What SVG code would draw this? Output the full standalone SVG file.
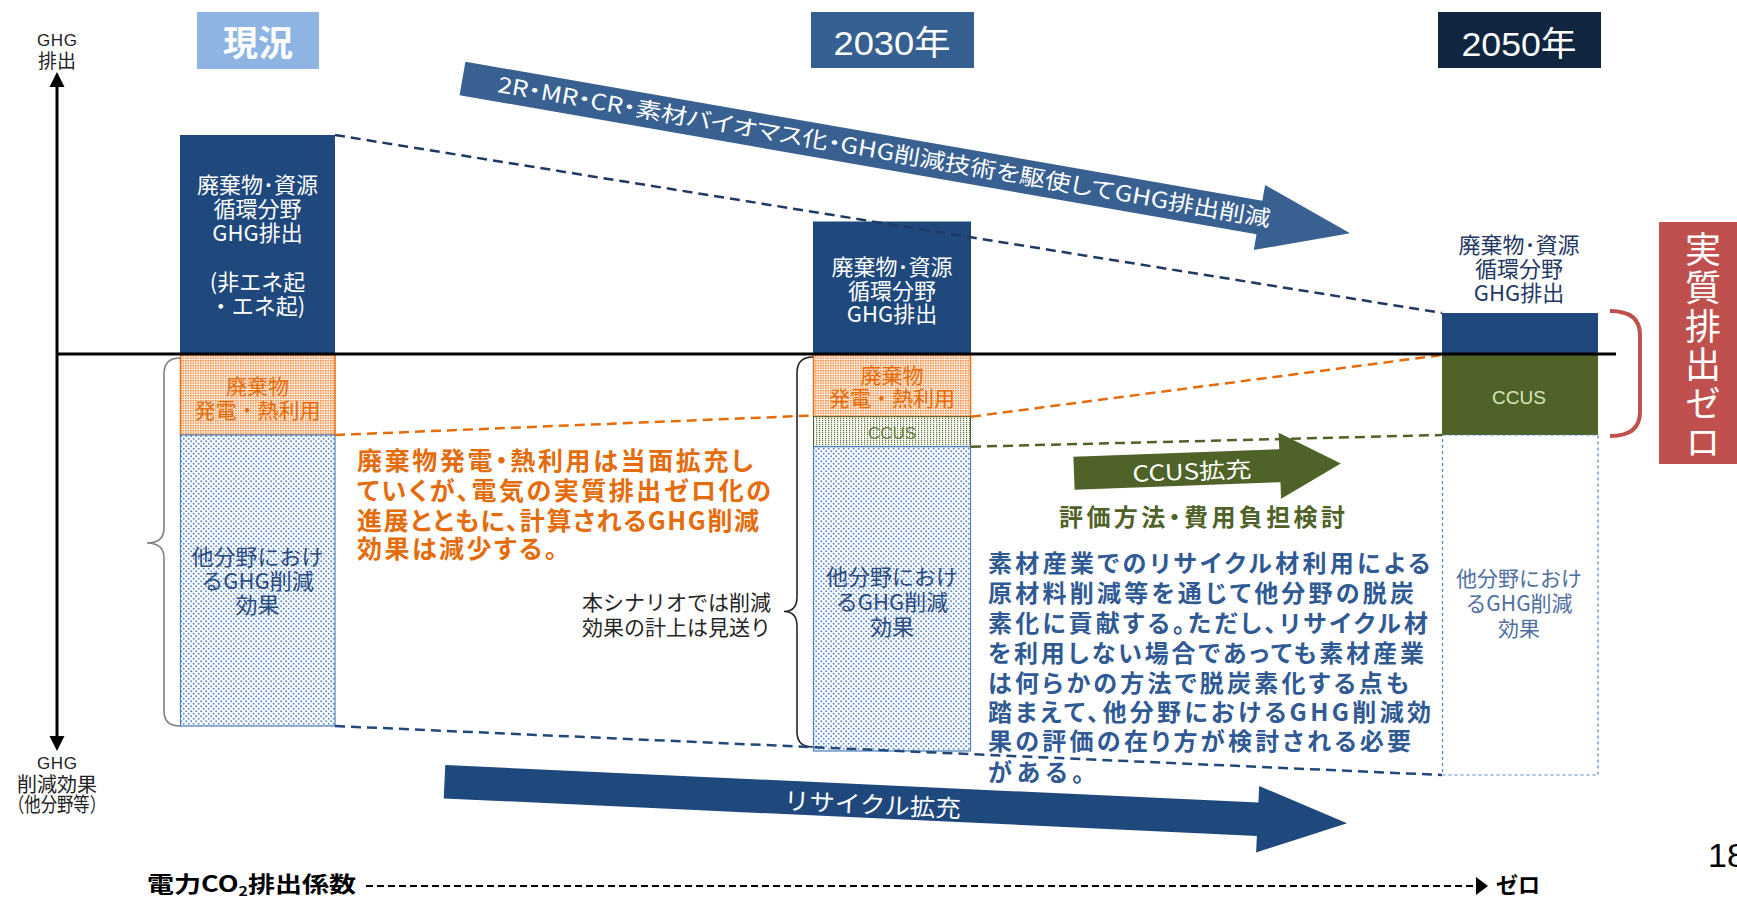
<svg xmlns="http://www.w3.org/2000/svg" width="1737" height="898" viewBox="0 0 1737 898">
<defs>
<pattern id="pO" width="2.5" height="2.5" patternUnits="userSpaceOnUse"><rect width="2.5" height="2.5" fill="#FFF0E4"/><rect width="1.5" height="1.4" fill="#EE7F2A"/></pattern>
<pattern id="pG" width="3" height="2" patternUnits="userSpaceOnUse"><rect width="3" height="2" fill="#ffffff"/><rect width="1.2" height="1.2" fill="#5E7535"/></pattern>
<pattern id="pB" width="5" height="5" patternUnits="userSpaceOnUse"><rect width="5" height="5" fill="#ffffff"/><circle cx="1.2" cy="1.2" r="1" fill="#5B8BD0"/><circle cx="3.7" cy="3.7" r="1" fill="#5B8BD0"/></pattern>
</defs>
<style>
.jp{font-family:"Noto Sans CJK JP","Noto Sans",sans-serif}
.lat{font-family:"Liberation Sans","Noto Sans CJK JP",sans-serif}
.palt{font-feature-settings:"palt" 1}
.mid{text-anchor:middle}
.colw{font-size:22px;fill:#ffffff}
.colo{font-size:21px;fill:#E46C0A}
.colb{font-size:22px;fill:#2B4C7E}
.navy{fill:#1F497D}
.secO{fill:url(#pO);stroke:#E46C0A;stroke-width:1.5}
.secG{fill:url(#pG);stroke:#4F6228;stroke-width:1}
.secB{fill:url(#pB);stroke:#4F81BD;stroke-width:1.2}
.dash{fill:none;stroke-width:2.5;stroke-dasharray:10 6}
.brace{fill:none;stroke-width:1.6}
.para{font-size:25px;font-weight:700;fill:#E46C0A}
.rec{font-size:24px;font-weight:700;fill:#2F5A94}
.axis{stroke:#000000;stroke-width:3;fill:none}
</style>
<rect width="1737" height="898" fill="#ffffff"/>

<!-- period labels -->
<g id="label-genkyo">
<rect x="197" y="12" width="122" height="57" fill="#8DB4E2"/>
<text x="258" y="56" class="jp mid" font-size="35" font-weight="700" fill="#ffffff">現況</text>
</g>
<g id="label-2030">
<rect x="811" y="12" width="163" height="56" fill="#376092"/>
<text x="892" y="55" class="lat mid" font-size="34" fill="#ffffff" textLength="117" lengthAdjust="spacingAndGlyphs">2030年</text>
</g>
<g id="label-2050">
<rect x="1438" y="12" width="163" height="56" fill="#10253F"/>
<text x="1519" y="56" class="lat mid" font-size="34" fill="#ffffff" textLength="115" lengthAdjust="spacingAndGlyphs">2050年</text>
</g>

<!-- axes -->
<g id="axes">
<line x1="57" y1="85" x2="57" y2="738" class="axis"/>
<polygon points="57,72 49.5,87 64.5,87" fill="#000"/>
<polygon points="57,751 49.5,736 64.5,736" fill="#000"/>
<text x="57" y="46" class="lat mid" font-size="17" fill="#222" textLength="40" lengthAdjust="spacing">GHG</text>
<text x="57" y="68" class="jp mid" font-size="19" fill="#222">排出</text>
<text x="57" y="769" class="lat mid" font-size="17" fill="#222" textLength="40" lengthAdjust="spacing">GHG</text>
<text x="57" y="792" class="jp mid" font-size="20" fill="#222">削減効果</text>
<text x="57" y="812" class="jp mid" font-size="20" fill="#222" textLength="98" lengthAdjust="spacingAndGlyphs">（他分野等）</text>
</g>

<!-- column: current -->
<g id="col-genkyo">
<rect x="180" y="135" width="155" height="219" class="navy"/>
<text class="jp mid colw"><tspan x="257.5" y="193">廃棄物･資源</tspan><tspan x="257.5" y="217">循環分野</tspan><tspan x="257.5" y="241">GHG排出</tspan><tspan x="257.5" y="290">(非エネ起</tspan><tspan x="257.5" y="314">・エネ起)</tspan></text>
<rect x="180.5" y="354" width="154.5" height="81" class="secO"/>
<text class="jp mid colo"><tspan x="257.5" y="394">廃棄物</tspan><tspan x="257.5" y="418">発電・熱利用</tspan></text>
<rect x="180.5" y="435" width="154.5" height="291" class="secB"/>
<text class="jp mid colb"><tspan x="257.5" y="565">他分野におけ</tspan><tspan x="257.5" y="589">るGHG削減</tspan><tspan x="257.5" y="613">効果</tspan></text>
<path d="M180,358 Q164,358 164,374 L164,528 Q164,543 147,543 Q164,543 164,558 L164,711 Q164,726 180,726" class="brace" stroke="#7F7F7F"/>
</g>

<!-- column: 2030 -->
<g id="col-2030">
<rect x="813" y="221.5" width="158" height="132.5" class="navy"/>
<text class="jp mid colw"><tspan x="892" y="275">廃棄物･資源</tspan><tspan x="892" y="298.5">循環分野</tspan><tspan x="892" y="322">GHG排出</tspan></text>
<rect x="813.5" y="354" width="157" height="62.7" class="secO"/>
<text class="jp mid colo"><tspan x="892" y="383">廃棄物</tspan><tspan x="892" y="406">発電・熱利用</tspan></text>
<rect x="813.5" y="416.7" width="157" height="30" class="secG"/>
<text x="892" y="438.5" class="lat mid" font-size="16" fill="#6B7F45" textLength="48" lengthAdjust="spacingAndGlyphs">CCUS</text>
<rect x="813.5" y="446.7" width="157" height="304.3" class="secB"/>
<text class="jp mid colb"><tspan x="892" y="585">他分野におけ</tspan><tspan x="892" y="610">るGHG削減</tspan><tspan x="892" y="635">効果</tspan></text>
<path d="M813,357 Q797,357 797,373 L797,597 Q797,611.5 784,611.5 Q797,611.5 797,626 L797,732 Q797,747 813,747" class="brace" stroke="#262626"/>
<text class="jp" font-size="21" fill="#262626" text-anchor="end"><tspan x="771" y="610">本シナリオでは削減</tspan><tspan x="771" y="635">効果の計上は見送り</tspan></text>
</g>

<!-- column: 2050 -->
<g id="col-2050">
<text class="jp mid" font-size="22" fill="#1F3864"><tspan x="1519" y="253">廃棄物･資源</tspan><tspan x="1519" y="277">循環分野</tspan><tspan x="1519" y="301">GHG排出</tspan></text>
<rect x="1442" y="313" width="156" height="41" class="navy"/>
<rect x="1442" y="354" width="156" height="81" fill="#4F6228"/>
<text x="1519" y="404" class="lat mid" font-size="19" fill="#D8E4BC">CCUS</text>
<rect x="1442.5" y="435" width="155.5" height="340" fill="none" stroke="#4F81BD" stroke-width="1.2" stroke-dasharray="3 3"/>
<text class="jp mid" font-size="21" fill="#4F6F9F"><tspan x="1519" y="586">他分野におけ</tspan><tspan x="1519" y="611">るGHG削減</tspan><tspan x="1519" y="636">効果</tspan></text>
</g>

<!-- connectors -->
<g id="connectors">
<line x1="335" y1="135" x2="1442" y2="313" class="dash" stroke="#1F3864"/>
<line x1="335" y1="726" x2="1442" y2="775" class="dash" stroke="#1F497D"/>
<line x1="335" y1="435" x2="813" y2="415.5" class="dash" stroke="#E46C0A"/>
<line x1="971" y1="416.7" x2="1442" y2="355" class="dash" stroke="#E46C0A"/>
<line x1="971" y1="446.7" x2="1442" y2="435" class="dash" stroke="#4F6228"/>
</g>

<!-- baseline -->
<g id="baseline">
<line x1="57" y1="354" x2="1616" y2="354" class="axis"/>
</g>

<!-- big arrows -->
<g id="arrow-2r" transform="translate(462.5,78.4) rotate(9.9)">
<polygon points="0,-17 809,-17 809,-33 901,0 809,33 809,17 0,17" fill="#386091"/>
<text x="36" y="7.5" class="jp palt" font-size="22" fill="#ffffff" textLength="784" lengthAdjust="spacingAndGlyphs">2R・MR・CR・素材バイオマス化・GHG削減技術を駆使してGHG排出削減</text>
</g>
<g id="arrow-ccus" transform="translate(1074,473.3) rotate(-2.1)">
<polygon points="0,-16.5 206,-16.5 206,-33 267,0 206,33 206,16.5 0,16.5" fill="#4F6228"/>
<text x="118" y="10.5" class="jp mid" font-size="22" fill="#ffffff" textLength="119" lengthAdjust="spacingAndGlyphs">CCUS拡充</text>
</g>
<g id="note-ccus">
<text x="1059" y="525.5" class="jp palt" font-size="24" font-weight="700" fill="#4F6228" textLength="286" lengthAdjust="spacing">評価方法・費用負担検討</text>
</g>
<g id="arrow-recycle" transform="translate(444.5,781.7) rotate(2.64)">
<polygon points="0,-16.7 814,-16.7 814,-33.3 903.5,0 814,33.3 814,16.7 0,16.7" fill="#1F497D"/>
<text x="428.5" y="12" class="jp mid" font-size="24" fill="#ffffff" textLength="177" lengthAdjust="spacingAndGlyphs">リサイクル拡充</text>
</g>

<!-- orange note -->
<g id="note-orange" class="jp para palt">
<text x="357" y="470" textLength="396" lengthAdjust="spacing">廃棄物発電・熱利用は当面拡充し</text>
<text x="357" y="500" textLength="414" lengthAdjust="spacing">ていくが、電気の実質排出ゼロ化の</text>
<text x="357" y="530" textLength="402" lengthAdjust="spacing">進展とともに、計算されるGHG削減</text>
<text x="357" y="558" textLength="200" lengthAdjust="spacing">効果は減少する。</text>
</g>

<!-- recycle note -->
<g id="note-recycle" class="jp rec palt">
<text x="988" y="572" textLength="442" lengthAdjust="spacing">素材産業でのリサイクル材利用による</text>
<text x="988" y="602" textLength="426" lengthAdjust="spacing">原材料削減等を通じて他分野の脱炭</text>
<text x="988" y="632" textLength="440" lengthAdjust="spacing">素化に貢献する。ただし、リサイクル材</text>
<text x="988" y="662" textLength="436" lengthAdjust="spacing">を利用しない場合であっても素材産業</text>
<text x="988" y="692" textLength="421" lengthAdjust="spacing">は何らかの方法で脱炭素化する点も</text>
<text x="988" y="721" textLength="443" lengthAdjust="spacing">踏まえて、他分野におけるGHG削減効</text>
<text x="988" y="750" textLength="423" lengthAdjust="spacing">果の評価の在り方が検討される必要</text>
<text x="988" y="781" textLength="96" lengthAdjust="spacing">がある。</text>
</g>

<!-- net zero -->
<g id="net-zero">
<path d="M1610,311 Q1640,311 1640,335 L1640,412 Q1640,436 1610,436" fill="none" stroke="#C0504D" stroke-width="4"/>
<rect x="1659" y="222" width="80" height="242" fill="#C0504D"/>
<text x="1703" y="231" class="jp" font-size="36" fill="#ffffff" style="writing-mode:vertical-rl" letter-spacing="2.6">実質排出ゼロ</text>
</g>

<!-- bottom axis -->
<g id="power-axis">
<text x="147" y="892" class="jp" font-size="22" font-weight="700" fill="#000" textLength="209" lengthAdjust="spacingAndGlyphs">電力CO<tspan font-size="13" dy="4">2</tspan><tspan dy="-4">排出係数</tspan></text>
<line x1="366" y1="886" x2="1476" y2="886" stroke="#000" stroke-width="2" stroke-dasharray="7 4"/>
<polygon points="1476,877 1476,895 1488,886" fill="#000"/>
<text x="1496" y="893" class="jp" font-size="22" font-weight="700" fill="#000">ゼロ</text>
</g>

<g id="page-number">
<text x="1708" y="867" class="lat" font-size="34" fill="#000">18</text>
</g>
</svg>
